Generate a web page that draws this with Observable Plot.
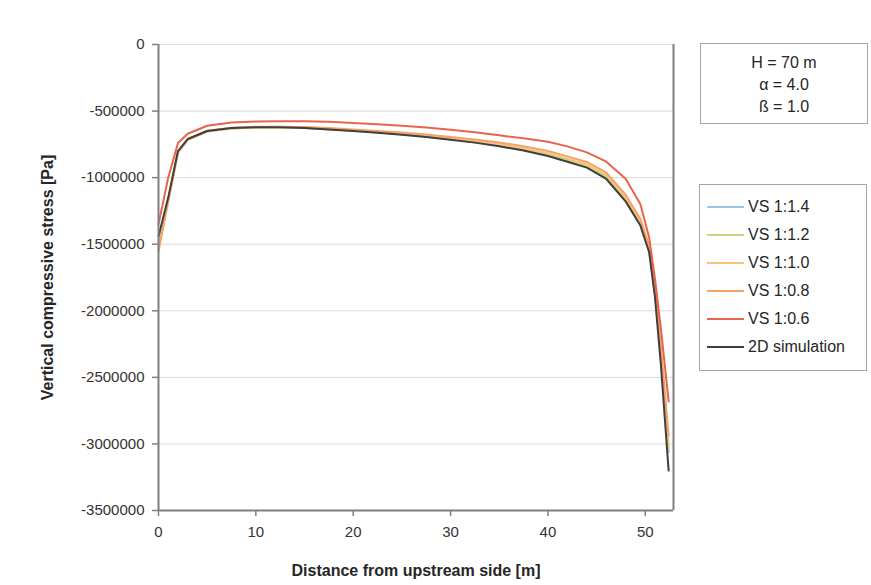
<!DOCTYPE html>
<html>
<head>
<meta charset="utf-8">
<script src="https://cdn.jsdelivr.net/npm/d3@7"></script>
<script src="https://cdn.jsdelivr.net/npm/@observablehq/plot@0.6"></script>
<style>
  html, body { margin: 0; padding: 0; background: #fff; }
  #wrap { position: relative; width: 871px; height: 585px; font-family: "Liberation Sans", Arial, sans-serif; color: #262626; }
  .box { position: absolute; border: 1.5px solid #a6a6a6; background: #fff; box-sizing: border-box; }
  #params { left: 700px; top: 43px; width: 168px; height: 81px; text-align: center; font-size: 16px; line-height: 22px; padding-top: 8px; }
  #legend { left: 699px; top: 184px; width: 168px; height: 187px; font-size: 16px; }
  .item { position: absolute; left: 7px; height: 20px; display: flex; align-items: center; }
  .item .sw { display: inline-block; width: 37px; height: 2px; margin-right: 4px; }
</style>
</head>
<body>
<div id="wrap">
  <div id="chart"></div>
  <div class="box" id="params"><div>H = 70 m</div><div>α = 4.0</div><div>ß = 1.0</div></div>
  <div class="box" id="legend"></div>
</div>
<script>
// ---- data ----
const xs = [0, 1, 2, 3, 5, 7.5, 10, 12.5, 15, 17.5, 20, 22.5, 25, 27.5, 30, 32.5, 35, 37.5, 40, 42, 44, 46, 48, 49.5, 50.4, 51, 51.6, 52.4];

const seriesNames = ["VS 1:1.4", "VS 1:1.2", "VS 1:1.0", "VS 1:0.8", "VS 1:0.6", "2D simulation"];
const seriesColors = ["#9dc3e6", "#c5d67a", "#f7c27c", "#f4a267", "#e8644c", "#3f3f3f"];

const vs14 = [-1500000, -1170000, -810000, -715000, -652000, -630000, -623000, -622000, -627000, -637000, -648000, -661000, -675000, -692000, -712000, -734000, -760000, -790000, -830000, -872000, -918000, -1000000, -1170000, -1350000, -1550000, -1880000, -2350000, -3060000];
const vs12 = [-1520000, -1175000, -812000, -716000, -652000, -630000, -622000, -621000, -626000, -636000, -647000, -660000, -674000, -690000, -710000, -731000, -757000, -787000, -826000, -868000, -913000, -995000, -1165000, -1345000, -1545000, -1870000, -2330000, -3040000];
const vs10 = [-1550000, -1180000, -815000, -718000, -654000, -631000, -623000, -621000, -625000, -634000, -645000, -657000, -670000, -686000, -705000, -725000, -750000, -779000, -816000, -857000, -900000, -980000, -1150000, -1330000, -1530000, -1850000, -2300000, -3000000];
const vs08 = [-1550000, -1170000, -805000, -712000, -648000, -626000, -618000, -617000, -620000, -628000, -638000, -649000, -661000, -676000, -694000, -713000, -736000, -764000, -800000, -840000, -882000, -962000, -1130000, -1310000, -1510000, -1820000, -2260000, -2940000];
const vs06 = [-1350000, -1000000, -740000, -670000, -610000, -585000, -578000, -577000, -577000, -580000, -589000, -599000, -610000, -624000, -640000, -659000, -682000, -705000, -730000, -765000, -810000, -880000, -1010000, -1200000, -1450000, -1760000, -2130000, -2680000];
const sim2d = [-1440000, -1150000, -800000, -710000, -650000, -628000, -622000, -622000, -628000, -638000, -650000, -663000, -677000, -695000, -715000, -737000, -765000, -796000, -838000, -880000, -925000, -1010000, -1180000, -1360000, -1560000, -1900000, -2400000, -3200000];

const xTicks = [0, 10, 20, 30, 40, 50];
const yTicks = [0, -500000, -1000000, -1500000, -2000000, -2500000, -3000000, -3500000];

const seriesValues = [vs14, vs12, vs10, vs08, vs06, sim2d];
const rows = seriesNames.flatMap((name, s) => xs.map((x, i) => ({x, y: seriesValues[s][i], name})));

const xMax = 52.9;

const chart = Plot.plot({
  width: 871,
  height: 585,
  marginLeft: 158,
  marginRight: 198,
  marginTop: 44,
  marginBottom: 75,
  style: {fontFamily: "'Liberation Sans', Arial, sans-serif", fontSize: "15px", color: "#333", background: "#fff"},
  x: {domain: [0, xMax], label: null},
  y: {domain: [-3500000, 0], label: null},
  color: {domain: seriesNames, range: seriesColors},
  marks: [
    Plot.gridY(yTicks, {stroke: "#d9d9d9", strokeOpacity: 1, strokeWidth: 1}),
    Plot.axisY(yTicks, {tickSize: 6, tickPadding: 8, tickFormat: d => String(d), fontSize: 15, stroke: "#808080", strokeWidth: 1.5, label: null}),
    Plot.axisX(xTicks, {tickSize: 6, tickPadding: 10, tickFormat: d => String(d), fontSize: 15, stroke: "#808080", strokeWidth: 1.5, label: null}),
    Plot.line(rows, {x: "x", y: "y", z: "name", stroke: "name", strokeWidth: 2, curve: "linear"}),
    Plot.ruleX([0], {stroke: "#7f7f7f", strokeWidth: 2}),
    Plot.ruleX([xMax], {stroke: "#7f7f7f", strokeWidth: 2}),
    Plot.ruleY([-3500000], {stroke: "#7f7f7f", strokeWidth: 2}),
    Plot.text(["Vertical compressive stress [Pa]"], {frameAnchor: "left", textAnchor: "middle", rotate: -90, dx: -111, text: d => d, fontWeight: "bold", fontSize: 16, fill: "#262626"}),
    Plot.text(["Distance from upstream side [m]"], {frameAnchor: "bottom", dy: 65, text: d => d, fontWeight: "bold", fontSize: 16, fill: "#262626"})
  ]
});
document.getElementById("chart").appendChild(chart);

// legend built from the same names/colours
const legend = document.getElementById("legend");
const legendTops = [12, 40, 68, 96, 124, 152];
seriesNames.forEach((name, i) => {
  const it = document.createElement("div");
  it.className = "item";
  it.style.top = legendTops[i] + "px";
  const sw = document.createElement("span");
  sw.className = "sw";
  sw.style.background = seriesColors[i];
  const t = document.createElement("span");
  t.textContent = name;
  it.appendChild(sw);
  it.appendChild(t);
  legend.appendChild(it);
});
</script>
</body>
</html>
